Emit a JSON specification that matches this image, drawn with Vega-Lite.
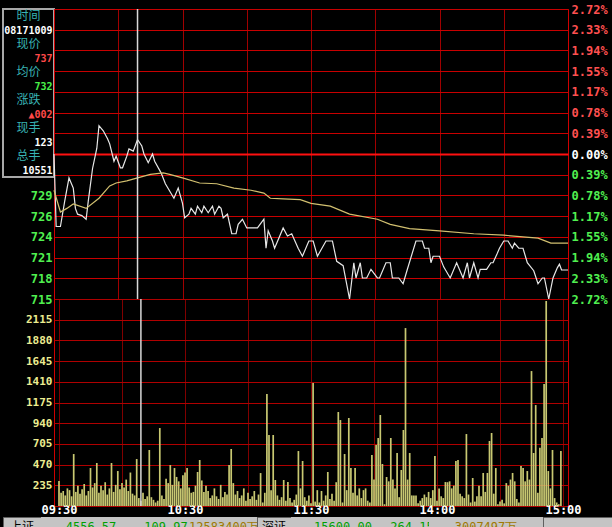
{
  "$schema": "https://vega.github.io/schema/vega-lite/v6.json",
  "background": "#000000",
  "padding": {"left": 2, "top": 2, "right": 0, "bottom": 0},
  "config": {
    "view": {"stroke": "#d00000", "strokeWidth": 1},
    "axis": {"ticks": false, "domain": false, "labelFont": "DejaVu Sans Mono", "labelFontSize": 12, "labelFontWeight": "bold", "gridOpacity": 1, "gridWidth": 1, "labelOverlap": false, "labelFlush": false}
  },
  "datasets": {
    "price": [
      {"m":0,"p":735},{"m":1,"p":725},{"m":3,"p":725},{"m":5,"p":728.5},{"m":7,"p":731.7},{"m":9,"p":730.3},{"m":10,"p":727.5},{"m":11,"p":726.7},{"m":13,"p":726.5},{"m":15,"p":726},{"m":16,"p":728.5},{"m":18,"p":733},{"m":20,"p":735.8},{"m":21,"p":738.9},{"m":23,"p":738.2},{"m":25,"p":737.1},{"m":26,"p":736.4},{"m":28,"p":734},{"m":29,"p":734.7},{"m":31,"p":733.1},{"m":32,"p":733.1},{"m":34,"p":734.7},{"m":35,"p":735.7},{"m":37,"p":735.4},{"m":39,"p":737},{"m":41,"p":736.1},{"m":42,"p":735},{"m":44,"p":733.8},{"m":46,"p":735},{"m":47,"p":734},{"m":50,"p":732.4},{"m":52,"p":730.9},{"m":54,"p":729.9},{"m":56,"p":728.9},{"m":58,"p":730.3},{"m":60,"p":728.2},{"m":61,"p":726.2},{"m":63,"p":726.7},{"m":64,"p":727.5},{"m":66,"p":726.7},{"m":67,"p":727.8},{"m":69,"p":726.9},{"m":70,"p":727.8},{"m":72,"p":726.9},{"m":74,"p":727.8},{"m":75,"p":726.7},{"m":77,"p":727.8},{"m":78,"p":727.5},{"m":79,"p":726.2},{"m":81,"p":726.7},{"m":83,"p":724},{"m":85,"p":724},{"m":86,"p":725.3},{"m":88,"p":726},{"m":90,"p":724.8},{"m":95,"p":724.8},{"m":98,"p":726},{"m":99,"p":722},{"m":100,"p":724.4},{"m":102,"p":723},{"m":103,"p":722},{"m":107,"p":724.8},{"m":109,"p":723.7},{"m":111,"p":724},{"m":114,"p":722},{"m":116,"p":720.9},{"m":119,"p":723},{"m":121,"p":723},{"m":123,"p":720.9},{"m":127,"p":723},{"m":130,"p":723},{"m":132,"p":720.2},{"m":135,"p":719.6},{"m":138,"p":715},{"m":140,"p":720},{"m":141,"p":717.9},{"m":143,"p":720},{"m":144,"p":717.9},{"m":146,"p":717.9},{"m":148,"p":719.1},{"m":151,"p":717.9},{"m":152,"p":717.9},{"m":155,"p":720},{"m":157,"p":720},{"m":158,"p":717.9},{"m":161,"p":717.9},{"m":163,"p":717.1},{"m":165,"p":719.1},{"m":169,"p":723},{"m":172,"p":723},{"m":173,"p":722},{"m":175,"p":722},{"m":176,"p":720},{"m":177,"p":720.9},{"m":180,"p":720.9},{"m":182,"p":719.4},{"m":185,"p":717.9},{"m":188,"p":720},{"m":191,"p":717.9},{"m":193,"p":720},{"m":194,"p":717.9},{"m":196,"p":720},{"m":198,"p":717.9},{"m":199,"p":719.1},{"m":202,"p":719.1},{"m":204,"p":720},{"m":205,"p":720},{"m":207,"p":721.3},{"m":208,"p":722},{"m":210,"p":723},{"m":212,"p":723},{"m":214,"p":722},{"m":215,"p":722.7},{"m":217,"p":722},{"m":219,"p":722},{"m":221,"p":720},{"m":224,"p":718.9},{"m":226,"p":717.1},{"m":228,"p":717.9},{"m":229,"p":717.9},{"m":231,"p":715},{"m":233,"p":717.9},{"m":235,"p":719.3},{"m":236,"p":719.8},{"m":237,"p":719},{"m":240,"p":719}
    ],
    "avg": [
      {"m":0,"a":730},{"m":3,"a":727},{"m":6,"a":727.5},{"m":9,"a":728.1},{"m":15,"a":727.5},{"m":21,"a":728.9},{"m":26,"a":730.6},{"m":29,"a":731},{"m":34,"a":731.3},{"m":39,"a":731.7},{"m":45,"a":732.2},{"m":51,"a":732.4},{"m":54,"a":732.2},{"m":60,"a":731.7},{"m":68,"a":731},{"m":76,"a":730.9},{"m":84,"a":730.3},{"m":92,"a":730},{"m":98,"a":729.6},{"m":101,"a":728.9},{"m":107,"a":728.8},{"m":115,"a":728.7},{"m":120,"a":728.2},{"m":129,"a":727.8},{"m":138,"a":726.7},{"m":151,"a":726},{"m":157,"a":725.3},{"m":166,"a":724.7},{"m":180,"a":724.4},{"m":196,"a":724},{"m":210,"a":723.8},{"m":226,"a":723.4},{"m":232,"a":722.7},{"m":240,"a":722.7}
    ],
    "vol": [
      {"m":0,"v":284},{"m":1,"v":150},{"m":2,"v":170},{"m":3,"v":120},{"m":4,"v":200},{"m":5,"v":180},{"m":6,"v":110},{"m":7,"v":590},{"m":8,"v":160},{"m":9,"v":230},
      {"m":10,"v":140},{"m":11,"v":190},{"m":12,"v":250},{"m":13,"v":120},{"m":14,"v":170},{"m":15,"v":431},{"m":16,"v":210},{"m":17,"v":260},{"m":18,"v":488},{"m":19,"v":150},
      {"m":20,"v":230},{"m":21,"v":180},{"m":22,"v":270},{"m":23,"v":130},{"m":24,"v":200},{"m":25,"v":488},{"m":26,"v":160},{"m":27,"v":240},{"m":28,"v":397},{"m":29,"v":190},
      {"m":30,"v":260},{"m":31,"v":210},{"m":32,"v":300},{"m":33,"v":170},{"m":34,"v":380},{"m":35,"v":140},{"m":36,"v":120},{"m":37,"v":533},{"m":38,"v":90},{"m":39,"v":60},
      {"m":40,"v":150},{"m":41,"v":80},{"m":42,"v":110},{"m":43,"v":636},{"m":44,"v":100},{"m":45,"v":70},{"m":46,"v":40},{"m":47,"v":60},{"m":48,"v":885},{"m":49,"v":120},
      {"m":50,"v":80},{"m":51,"v":310},{"m":52,"v":260},{"m":53,"v":465},{"m":54,"v":240},{"m":55,"v":431},{"m":56,"v":330},{"m":57,"v":280},{"m":58,"v":200},{"m":59,"v":350},
      {"m":60,"v":380},{"m":61,"v":431},{"m":62,"v":210},{"m":63,"v":150},{"m":64,"v":160},{"m":65,"v":230},{"m":66,"v":386},{"m":67,"v":522},{"m":68,"v":290},{"m":69,"v":160},
      {"m":70,"v":230},{"m":71,"v":170},{"m":72,"v":90},{"m":73,"v":120},{"m":74,"v":200},{"m":75,"v":110},{"m":76,"v":80},{"m":77,"v":240},{"m":78,"v":100},{"m":79,"v":160},
      {"m":80,"v":130},{"m":81,"v":465},{"m":82,"v":647},{"m":83,"v":260},{"m":84,"v":130},{"m":85,"v":170},{"m":86,"v":90},{"m":87,"v":120},{"m":88,"v":200},{"m":89,"v":60},
      {"m":90,"v":150},{"m":91,"v":80},{"m":92,"v":110},{"m":93,"v":170},{"m":94,"v":70},{"m":95,"v":130},{"m":96,"v":374},{"m":97,"v":40},{"m":98,"v":150},{"m":99,"v":1271},
      {"m":100,"v":806},{"m":101,"v":180},{"m":102,"v":806},{"m":103,"v":295},{"m":104,"v":120},{"m":105,"v":70},{"m":106,"v":100},{"m":107,"v":295},{"m":108,"v":60},{"m":109,"v":272},
      {"m":110,"v":90},{"m":111,"v":40},{"m":112,"v":70},{"m":113,"v":130},{"m":114,"v":624},{"m":115,"v":200},{"m":116,"v":511},{"m":117,"v":100},{"m":118,"v":60},{"m":119,"v":120},
      {"m":120,"v":30},{"m":121,"v":1396},{"m":122,"v":50},{"m":123,"v":180},{"m":124,"v":40},{"m":125,"v":170},{"m":126,"v":60},{"m":127,"v":120},{"m":128,"v":386},{"m":129,"v":80},
      {"m":130,"v":140},{"m":131,"v":60},{"m":132,"v":270},{"m":133,"v":1067},{"m":134,"v":976},{"m":135,"v":40},{"m":136,"v":590},{"m":137,"v":180},{"m":138,"v":999},{"m":139,"v":431},
      {"m":140,"v":150},{"m":141,"v":431},{"m":142,"v":120},{"m":143,"v":200},{"m":144,"v":90},{"m":145,"v":180},{"m":146,"v":200},{"m":147,"v":60},{"m":148,"v":40},{"m":149,"v":579},
      {"m":150,"v":300},{"m":151,"v":692},{"m":152,"v":772},{"m":153,"v":1033},{"m":154,"v":477},{"m":155,"v":20},{"m":156,"v":329},{"m":157,"v":280},{"m":158,"v":772},{"m":159,"v":300},
      {"m":160,"v":200},{"m":161,"v":602},{"m":162,"v":100},{"m":163,"v":409},{"m":164,"v":863},{"m":165,"v":2020},{"m":166,"v":300},{"m":167,"v":602},{"m":168,"v":120},{"m":169,"v":120},
      {"m":170,"v":120},{"m":171,"v":30},{"m":172,"v":60},{"m":173,"v":90},{"m":174,"v":130},{"m":175,"v":100},{"m":176,"v":160},{"m":177,"v":90},{"m":178,"v":180},{"m":179,"v":568},
      {"m":180,"v":60},{"m":181,"v":200},{"m":182,"v":110},{"m":183,"v":90},{"m":184,"v":272},{"m":185,"v":270},{"m":186,"v":280},{"m":187,"v":200},{"m":188,"v":230},{"m":189,"v":511},
      {"m":190,"v":522},{"m":191,"v":140},{"m":192,"v":110},{"m":193,"v":90},{"m":194,"v":817},{"m":195,"v":130},{"m":196,"v":40},{"m":197,"v":318},{"m":198,"v":50},{"m":199,"v":110},
      {"m":200,"v":230},{"m":201,"v":110},{"m":202,"v":375},{"m":203,"v":160},{"m":204,"v":375},{"m":205,"v":738},{"m":206,"v":829},{"m":207,"v":140},{"m":208,"v":431},{"m":209,"v":20},
      {"m":210,"v":50},{"m":211,"v":70},{"m":212,"v":30},{"m":213,"v":260},{"m":214,"v":230},{"m":215,"v":300},{"m":216,"v":375},{"m":217,"v":280},{"m":218,"v":80},{"m":219,"v":40},
      {"m":220,"v":454},{"m":221,"v":431},{"m":222,"v":280},{"m":223,"v":397},{"m":224,"v":300},{"m":225,"v":1532},{"m":226,"v":602},{"m":227,"v":1146},{"m":228,"v":150},{"m":229,"v":660},
      {"m":230,"v":772},{"m":231,"v":1385},{"m":232,"v":2327},{"m":233,"v":397},{"m":234,"v":200},{"m":235,"v":636},{"m":236,"v":90},{"m":237,"v":40},{"m":238,"v":20},{"m":239,"v":624}
    ],
    "info": [
      {"k":"时间","v":"08171009"},
      {"k":"现价","v":"737"},
      {"k":"均价","v":"732"},
      {"k":"涨跌","v":"▲002"},
      {"k":"现手","v":"123"},
      {"k":"总手","v":"10551"}
    ],
    "cursor": [{"m":39}]
  },
  "vconcat": [
    {
      "hconcat": [
        {
          "width": 51,
          "height": 168,
          "view": {"stroke": "#a8a8a8", "strokeWidth": 2, "fill": "#000000"},
          "data": {"name": "info"},
          "layer": [
            {
              "mark": {"type": "text", "font": "Noto Sans CJK SC", "fontSize": 12, "color": "#38b4b4", "dy": -7},
              "encoding": {
                "y": {"field": "k", "type": "nominal", "sort": null, "axis": null},
                "text": {"field": "k"}
              }
            },
            {
              "mark": {"type": "text", "font": "DejaVu Sans Mono", "fontSize": 10, "fontWeight": "bold", "align": "right", "dx": 24, "dy": 8},
              "encoding": {
                "y": {"field": "k", "type": "nominal", "sort": null, "axis": null},
                "text": {"field": "v"},
                "color": {
                  "condition": [
                    {"test": "datum.k == '现价' || datum.k == '涨跌'", "value": "#ff4848"},
                    {"test": "datum.k == '均价'", "value": "#48f048"}
                  ],
                  "value": "#ffffff"
                }
              }
            }
          ]
        },
        {
          "vconcat": [
            {
              "width": 514,
              "height": 290,
              "layer": [
                {
                  "data": {"name": "price"},
                  "mark": {"type": "line", "color": "#e8e8e8", "strokeWidth": 1.2},
                  "encoding": {
                    "x": {"field": "m", "type": "quantitative", "title": null, "scale": {"domain": [0, 240], "nice": false},
                      "axis": {"labels": false, "grid": true, "gridColor": "#a00000", "values": [30, 60, 90, 120, 150, 180, 210]}},
                    "y": {"field": "p", "type": "quantitative", "title": null, "scale": {"domain": [715, 755], "nice": false, "zero": false},
                      "axis": {"orient": "left", "grid": true, "labelPadding": 2, "labelColor": "#50f050",
                        "values": [715, 717.857, 720.714, 723.571, 726.429, 729.286, 732.143, 735, 737.857, 740.714, 743.571, 746.429, 749.286, 752.143, 755],
                        "labelExpr": "datum.value < 731 ? format(round(datum.value), 'd') : ''",
                        "gridColor": {"condition": {"test": "abs(datum.value - 735) < 0.1", "value": "#ff1010"}, "value": "#c80000"},
                        "gridWidth": {"condition": {"test": "abs(datum.value - 735) < 0.1", "value": 2}, "value": 1}}}
                  }
                },
                {
                  "data": {"name": "avg"},
                  "mark": {"type": "line", "color": "#d2c070", "strokeWidth": 1.2},
                  "encoding": {
                    "x": {"field": "m", "type": "quantitative", "title": null, "scale": {"domain": [0, 240], "nice": false}},
                    "y": {"field": "a", "type": "quantitative", "title": null, "scale": {"domain": [715, 755], "nice": false, "zero": false},
                      "axis": {"orient": "right", "grid": false, "labelPadding": 3,
                        "values": [715, 717.857, 720.714, 723.571, 726.429, 729.286, 732.143, 735, 737.857, 740.714, 743.571, 746.429, 749.286, 752.143, 755],
                        "labelExpr": "format(abs(datum.value - 735) / 7.35, '.2f') + '%'",
                        "labelColor": {"condition": [
                          {"test": "datum.value > 735.5", "value": "#ff5050"},
                          {"test": "datum.value > 734.5", "value": "#ffffff"}
                        ], "value": "#50f050"}}}
                  }
                },
                {
                  "data": {"name": "cursor"},
                  "mark": {"type": "rule", "color": "#d8d8d8", "strokeWidth": 1.5},
                  "encoding": {
                    "x": {"field": "m", "type": "quantitative", "title": null, "scale": {"domain": [0, 240], "nice": false}}
                  }
                }
              ],
              "resolve": {"scale": {"y": "independent"}}
            },
            {
              "width": 514,
              "height": 207,
              "layer": [
                {
                  "data": {"name": "vol"},
                  "mark": {"type": "bar", "color": "#c8c872", "size": 1.7},
                  "encoding": {
                    "x": {"field": "m", "type": "quantitative", "title": null, "scale": {"domain": [0, 240], "nice": false},
                      "axis": {"grid": true, "gridColor": "#800000", "labelColor": "#ffffff", "labelPadding": -2,
                        "values": [0, 30, 60, 90, 120, 150, 180, 210, 240],
                        "labelExpr": "datum.value == 0 ? '09:30' : datum.value == 60 ? '10:30' : datum.value == 120 ? '11:30' : datum.value == 180 ? '14:00' : datum.value == 240 ? '15:00' : ''"}},
                    "y": {"field": "v", "type": "quantitative", "title": null, "scale": {"domain": [0, 2350], "nice": false},
                      "axis": {"grid": true, "gridColor": "#b00000", "labelColor": "#ecec90", "labelFontSize": 11, "labelPadding": 2,
                        "values": [0, 235, 470, 705, 940, 1175, 1410, 1645, 1880, 2115, 2350],
                        "labelExpr": "datum.value > 0 && datum.value < 2300 ? datum.value : ''"}}
                  }
                },
                {
                  "data": {"name": "cursor"},
                  "mark": {"type": "rule", "color": "#d8d8d8", "strokeWidth": 1.5},
                  "encoding": {
                    "x": {"field": "m", "type": "quantitative", "title": null, "scale": {"domain": [0, 240], "nice": false}}
                  }
                }
              ]
            }
          ],
          "spacing": 0,
          "bounds": "flush"
        }
      ],
      "spacing": 0,
      "bounds": "flush"
    },
    {
      "hconcat": [
        {"width": 38, "height": 20, "view": {"fill": "#c4c4c4", "stroke": "#606060"}, "data": {"values": [{"t": "上证"}]}, "mark": {"type": "text", "font": "Noto Sans CJK SC", "fontSize": 12, "color": "#000000"}, "encoding": {"text": {"field": "t"}}},
        {"width": 100, "height": 20, "view": {"fill": "#c4c4c4", "stroke": null}, "data": {"values": [{"t": "4556.57"}]}, "mark": {"type": "text", "font": "DejaVu Sans Mono", "fontSize": 12, "color": "#00a000"}, "encoding": {"text": {"field": "t"}}},
        {"width": 50, "height": 20, "view": {"fill": "#c4c4c4", "stroke": null}, "data": {"values": [{"t": "109.97"}]}, "mark": {"type": "text", "font": "DejaVu Sans Mono", "fontSize": 12, "color": "#00a000"}, "encoding": {"text": {"field": "t"}}},
        {"width": 66, "height": 20, "view": {"fill": "#c4c4c4", "stroke": null}, "data": {"values": [{"t": "12583400万"}]}, "mark": {"type": "text", "font": "DejaVu Sans Mono", "fontSize": 12, "color": "#a07800"}, "encoding": {"text": {"field": "t"}}},
        {"width": 34, "height": 20, "view": {"fill": "#c4c4c4", "stroke": "#606060"}, "data": {"values": [{"t": "深证"}]}, "mark": {"type": "text", "font": "Noto Sans CJK SC", "fontSize": 12, "color": "#000000"}, "encoding": {"text": {"field": "t"}}},
        {"width": 104, "height": 20, "view": {"fill": "#c4c4c4", "stroke": null}, "data": {"values": [{"t": "15600.00"}]}, "mark": {"type": "text", "font": "DejaVu Sans Mono", "fontSize": 12, "color": "#00a000"}, "encoding": {"text": {"field": "t"}}},
        {"width": 34, "height": 20, "view": {"fill": "#c4c4c4", "stroke": null}, "data": {"values": [{"t": "264.15"}]}, "mark": {"type": "text", "font": "DejaVu Sans Mono", "fontSize": 12, "color": "#00a000"}, "encoding": {"text": {"field": "t"}}},
        {"width": 114, "height": 20, "view": {"fill": "#c4c4c4", "stroke": null}, "data": {"values": [{"t": "3007497万"}]}, "mark": {"type": "text", "font": "DejaVu Sans Mono", "fontSize": 12, "color": "#a07800"}, "encoding": {"text": {"field": "t"}}},
        {"width": 70, "height": 20, "view": {"fill": "#c4c4c4", "stroke": "#606060"}, "data": {"values": [{"t": ""}]}, "mark": {"type": "text"}, "encoding": {"text": {"field": "t"}}}
      ],
      "spacing": 0,
      "bounds": "flush"
    }
  ],
  "spacing": 0,
  "bounds": "full"
}
